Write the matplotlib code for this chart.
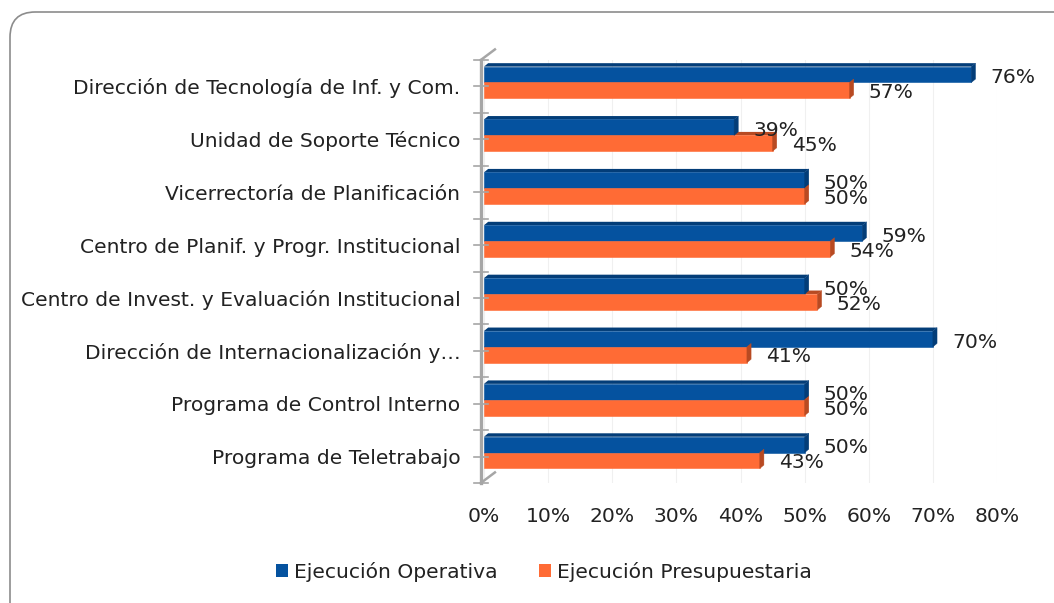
import numpy as np
import matplotlib
matplotlib.use("Agg")
import matplotlib.pyplot as plt
from matplotlib.patches import FancyBboxPatch, Polygon, Rectangle
from matplotlib.ticker import FuncFormatter

CATEGORIES = [
    "Dirección de Tecnología de Inf. y Com.",
    "Unidad de Soporte Técnico",
    "Vicerrectoría de Planificación",
    "Centro de Planif. y Progr. Institucional",
    "Centro de Invest. y Evaluación Institucional",
    "Dirección de Internacionalización y…",
    "Programa de Control Interno",
    "Programa de Teletrabajo",
]
OPERATIVA = [0.76, 0.39, 0.50, 0.59, 0.50, 0.70, 0.50, 0.50]
PRESUPUESTARIA = [0.57, 0.45, 0.50, 0.54, 0.52, 0.41, 0.50, 0.43]
SERIES = ["Ejecución Operativa", "Ejecución Presupuestaria"]
COLORS = ["#05529F", "#FF6B35"]
DARK = ["#033d78", "#b84a22"]

plt.rcParams["font.family"] = ["DejaVu Sans"]
FS = 14.6

fig = plt.figure(figsize=(10.54, 6.03), dpi=100)

# rounded frame around the chart area (runs off the right/bottom edges)
frame = FancyBboxPatch((10 / 1054, -0.2), 1.2, 1 - 12 / 603 + 0.2,
                       boxstyle="round,pad=0,rounding_size=0.024",
                       transform=fig.transFigure, fc="none", ec="#8c8c8c", lw=1.2,
                       mutation_aspect=1054 / 603, clip_on=False, zorder=-1)
fig.patches.append(frame)

ax = fig.add_axes([484 / 1054, 1 - 483 / 603, (997 - 484) / 1054, (483 - 60) / 603])
ax.set_facecolor("none")

n = len(CATEGORIES)
y = np.arange(n)[::-1].astype(float)
h = 0.30
off_blue = 0.225
off_orange = -0.075
depth_x = 0.0065
depth_y = 0.065

for vals, off, col, dk in [(OPERATIVA, off_blue, COLORS[0], DARK[0]),
                            (PRESUPUESTARIA, off_orange, COLORS[1], DARK[1])]:
    ax.barh(y + off, vals, height=h, color=col, edgecolor=col, lw=0.4, zorder=3)
    for yi, v in zip(y + off, vals):
        y0, y1 = yi - h / 2, yi + h / 2
        side = Polygon([(v, y0), (v + depth_x, y0 + depth_y), (v + depth_x, y1 + depth_y), (v, y1)],
                       closed=True, fc=dk, ec=dk, lw=0.3, zorder=4)
        ax.add_patch(side)
        top = Polygon([(0, y1), (depth_x, y1 + depth_y), (v + depth_x, y1 + depth_y), (v, y1)],
                      closed=True, fc=dk, ec="none", zorder=2)
        ax.add_patch(top)

for yi, v in zip(y + off_blue, OPERATIVA):
    ax.text(v + 0.03, yi - 0.06, f"{round(v * 100)}%", va="center", ha="left",
            fontsize=FS, color="#222222", zorder=6)
for yi, v in zip(y + off_orange, PRESUPUESTARIA):
    ax.text(v + 0.03, yi - 0.04, f"{round(v * 100)}%", va="center", ha="left",
            fontsize=FS, color="#222222", zorder=6)

ax.set_xlim(0, 0.8)
ax.set_ylim(-0.5, n - 0.5)
ax.set_xticks(np.arange(0, 0.81, 0.1))
ax.xaxis.set_major_formatter(FuncFormatter(lambda v, p: f"{round(v * 100)}%"))
ax.set_yticks(y)
ax.set_yticklabels(CATEGORIES)
ax.tick_params(axis="y", length=0, pad=17, labelsize=FS, labelcolor="#222222")
ax.tick_params(axis="x", length=0, pad=17, labelsize=FS, labelcolor="#222222")
ax.grid(axis="x", color="#f0f0f0", lw=0.8, zorder=0)
for s in ax.spines.values():
    s.set_visible(False)

# 3D wall axis line with cross ticks
ax_x = -0.005
lc = "#a6a6a6"
ax.plot([ax_x, ax_x], [-0.5, n - 0.5], color=lc, lw=2.4, zorder=5, clip_on=False)
for b in np.arange(-0.5, n, 0.5):
    ax.plot([ax_x - 0.011, ax_x + 0.011], [b, b], color=lc, lw=1.2, zorder=5, clip_on=False)
ax.plot([ax_x, ax_x + 0.022], [n - 0.5, n - 0.3], color=lc, lw=1.8, clip_on=False)
ax.plot([ax_x, ax_x + 0.022], [-0.5, -0.3], color=lc, lw=1.8, clip_on=False)

handles = [Rectangle((0, 0), 1, 1, fc=c, ec="none") for c in COLORS]
fig.legend(handles, SERIES, loc="center", bbox_to_anchor=(544 / 1054, 1 - 572 / 603),
           ncol=2, frameon=False, fontsize=FS, handlelength=0.6, handleheight=0.6,
           columnspacing=2.0, handletextpad=0.3, labelcolor="#222222")

fig.savefig("out.png", dpi=100)
